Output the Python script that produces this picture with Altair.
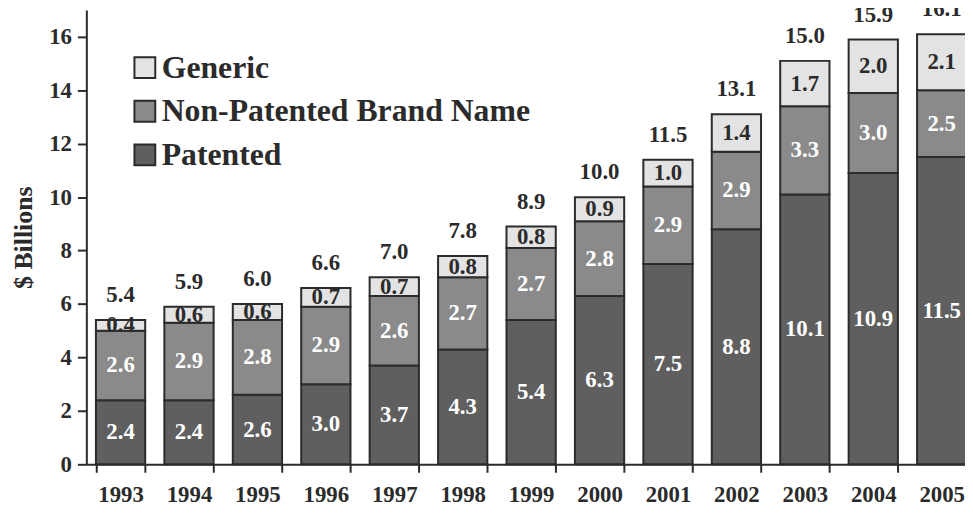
import altair as alt
import pandas as pd

years = ["1993", "1994", "1995", "1996", "1997", "1998", "1999",
         "2000", "2001", "2002", "2003", "2004", "2005"]
patented = [2.4, 2.4, 2.6, 3.0, 3.7, 4.3, 5.4, 6.3, 7.5, 8.8, 10.1, 10.9, 11.5]
non_patented = [2.6, 2.9, 2.8, 2.9, 2.6, 2.7, 2.7, 2.8, 2.9, 2.9, 3.3, 3.0, 2.5]
generic = [0.4, 0.6, 0.6, 0.7, 0.7, 0.8, 0.8, 0.9, 1.0, 1.4, 1.7, 2.0, 2.1]
totals = [5.4, 5.9, 6.0, 6.6, 7.0, 7.8, 8.9, 10.0, 11.5, 13.1, 15.0, 15.9, 16.1]
series_names = ["Patented", "Non-Patented Brand Name", "Generic"]
y_ticks = [0, 2, 4, 6, 8, 10, 12, 14, 16]

FONT = "Liberation Serif, Times New Roman, serif"
DARK = "#2b2b2b"

rows = []
top_rows = []
for i, y in enumerate(years):
    base = 0.0
    for name, vals in zip(series_names, [patented, non_patented, generic]):
        v = vals[i]
        rows.append({"year": y, "series": name, "value": v,
                     "start": base, "end": base + v, "mid": base + v / 2})
        base += v
    top_rows.append({"year": y, "top": base, "total": totals[i]})

df = pd.DataFrame(rows)
tops = pd.DataFrame(top_rows)

xscale = alt.Scale(domain=years, paddingInner=0.28, paddingOuter=0.14)
yscale = alt.Scale(domain=[0, 17], nice=False)

bars = alt.Chart(df).mark_bar(stroke=DARK, strokeWidth=2).encode(
    x=alt.X("year:N", scale=xscale, sort=years,
            axis=alt.Axis(title=None, labelFont=FONT, labelFontSize=23,
                          labelFontWeight="bold", labelColor=DARK, labelAngle=0,
                          tickBand="extent", tickSize=8, tickWidth=2, tickColor=DARK,
                          domainColor=DARK, domainWidth=2, labelPadding=12, grid=False)),
    y=alt.Y("start:Q", scale=yscale,
            axis=alt.Axis(values=y_ticks, format="d", title="$ Billions",
                          titleFont=FONT, titleFontSize=26, titleFontWeight="bold",
                          titleColor=DARK, titlePadding=12,
                          labelFont=FONT, labelFontSize=23, labelFontWeight="bold",
                          labelColor=DARK, tickSize=9, tickWidth=2, tickColor=DARK,
                          domainColor=DARK, domainWidth=2, labelPadding=6, grid=False)),
    y2="end:Q",
    color=alt.Color("series:N",
                    scale=alt.Scale(domain=["Generic", "Non-Patented Brand Name", "Patented"],
                                    range=["#e3e3e3", "#8a8a8a", "#5f5f5f"]),
                    legend=alt.Legend(title=None, orient="none", legendX=43, legendY=42,
                                      symbolType="square", symbolSize=441,
                                      symbolStrokeColor=DARK, symbolStrokeWidth=2,
                                      symbolOpacity=1,
                                      labelFont=FONT, labelFontSize=32,
                                      labelFontWeight="bold", labelColor=DARK,
                                      rowPadding=12, labelOffset=1, labelLimit=0)),
)

seg_text = alt.Chart(df).mark_text(font=FONT, fontSize=23, fontWeight="bold",
                                   baseline="middle").encode(
    x=alt.X("year:N", scale=xscale, sort=years),
    y=alt.Y("mid:Q", scale=yscale),
    text=alt.Text("value:Q", format=".1f"),
    color=alt.condition(alt.datum.series == "Generic", alt.value(DARK), alt.value("white")),
)

tot_text = alt.Chart(tops).mark_text(font=FONT, fontSize=23, fontWeight="bold",
                                     baseline="alphabetic", dy=-18, color=DARK).encode(
    x=alt.X("year:N", scale=xscale, sort=years),
    y=alt.Y("top:Q", scale=yscale),
    text=alt.Text("total:Q", format=".1f"),
)

chart = alt.layer(bars, seg_text, tot_text).properties(
    width=897, height=458,
    autosize=alt.AutoSizeParams(type="none"),
    padding={"left": 79, "top": 0, "right": -11, "bottom": 51},
    background="white",
).configure_view(stroke=None)

chart.save("out.html", embed_options={"renderer": "svg", "actions": False})
